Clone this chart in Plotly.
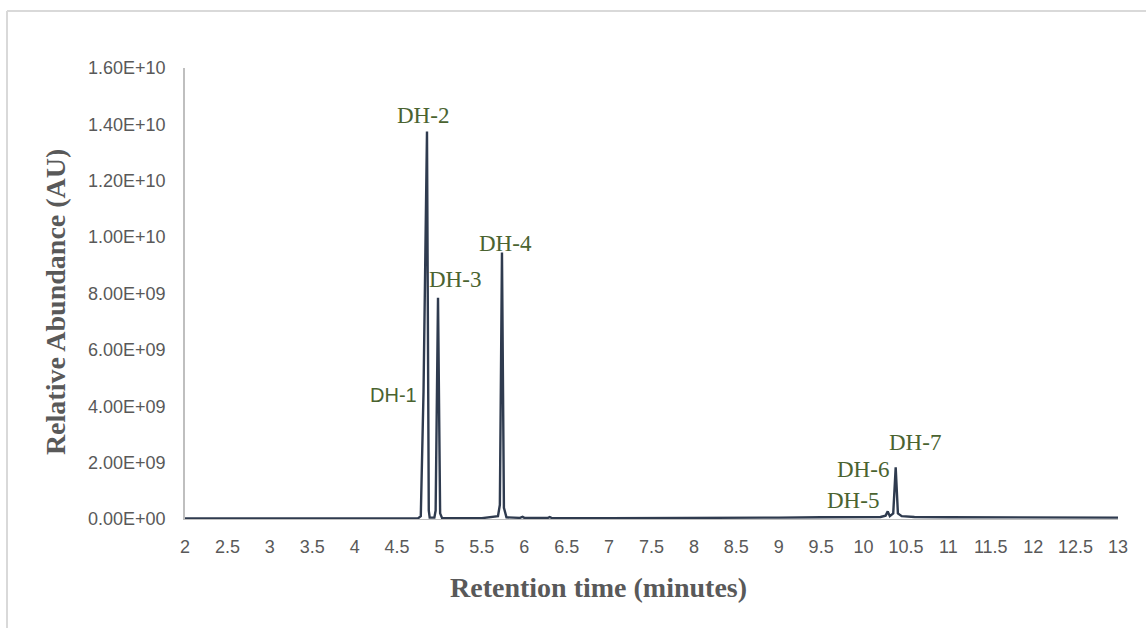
import plotly.graph_objects as go

# ---- data ----
retention_time = [2.0, 3.0, 4.0, 4.5, 4.75, 4.780, 4.798, 4.800, 4.806, 4.812, 4.853, 4.874, 4.885,
                  4.94, 4.955, 4.983, 5.008, 5.03, 5.5, 5.69, 5.712, 5.737, 5.76, 5.79,
                  5.95, 5.98, 6.0, 6.28, 6.3, 6.32, 7.0, 8.0, 9.0, 9.5, 10.0, 10.2, 10.26,
                  10.285, 10.31, 10.35, 10.379, 10.405, 10.45, 10.6, 11.0, 12.0, 12.6, 13.0]
abundance_e9 = [0.02, 0.02, 0.02, 0.02, 0.03, 0.10, 2.95, 3.0, 4.5, 4.5, 13.75, 0.3, 0.05,
                0.05, 0.3, 7.85, 0.2, 0.04, 0.03, 0.10, 0.5, 9.45, 0.4, 0.06,
                0.04, 0.08, 0.04, 0.04, 0.07, 0.04, 0.03, 0.03, 0.05, 0.06, 0.06, 0.07, 0.12,
                0.27, 0.10, 0.20, 1.83, 0.20, 0.10, 0.07, 0.06, 0.06, 0.06, 0.05]
abundance = [v * 1e9 for v in abundance_e9]

peak_labels = ["DH-1", "DH-2", "DH-3", "DH-4", "DH-5", "DH-6", "DH-7"]

x_ticks = [2 + 0.5 * i for i in range(23)]
x_ticktext = [("%g" % t) for t in x_ticks]
y_ticks = [i * 2e9 for i in range(9)]
y_ticktext = ["0.00E+00", "2.00E+09", "4.00E+09", "6.00E+09", "8.00E+09",
              "1.00E+10", "1.20E+10", "1.40E+10", "1.60E+10"]

# ---- label placement (layout) ----
label_pos = {
    "DH-1": (4.46, 4.40e9),
    "DH-2": (4.806, 1.433e10),
    "DH-3": (5.183, 8.51e9),
    "DH-4": (5.784, 9.79e9),
    "DH-5": (9.876, 0.64e9),
    "DH-6": (9.993, 1.77e9),
    "DH-7": (10.607, 2.73e9),
}

GREEN = "#4a6330"
GRAY_TXT = "#595959"

fig = go.Figure()
fig.add_trace(go.Scatter(
    x=retention_time, y=abundance, mode="lines",
    line=dict(color="#2f3b4f", width=2.4), showlegend=False,
))

annotations = []
for lab in peak_labels:
    x, y = label_pos[lab]
    fnt = dict(family="Liberation Serif, Times New Roman, serif", size=23, color=GREEN)
    if lab == "DH-1":
        fnt = dict(family="Liberation Sans, Arial, sans-serif", size=20, color=GREEN)
    annotations.append(dict(x=x, y=y, xref="x", yref="y", text=lab, showarrow=False,
                            font=fnt, xanchor="center", yanchor="middle"))

annotations.append(dict(
    x=0.4437, y=-0.1508, xref="paper", yref="paper", showarrow=False,
    text="<b>Retention time (minutes)</b>", xanchor="center", yanchor="middle",
    font=dict(family="Liberation Serif, Times New Roman, serif", size=28, color=GRAY_TXT)))
annotations.append(dict(
    x=-0.1393, y=0.481, xref="paper", yref="paper", showarrow=False, textangle=-90,
    text="<b>Relative Abundance (AU)</b>", xanchor="center", yanchor="middle",
    font=dict(family="Liberation Serif, Times New Roman, serif", size=28, color=GRAY_TXT)))

fig.update_layout(
    width=1146, height=628,
    margin=dict(l=185, r=28, t=68, b=109),
    paper_bgcolor="white", plot_bgcolor="white",
    annotations=annotations,
    shapes=[
        dict(type="line", xref="paper", yref="paper", x0=-0.1908, x1=1.05,
             y0=1.1264, y1=1.1264, line=dict(color="#d9d9d9", width=2)),
        dict(type="line", xref="paper", yref="paper", x0=-0.1908, x1=-0.1908,
             y0=1.1264, y1=-0.3, line=dict(color="#d9d9d9", width=2)),
    ],
    xaxis=dict(range=[2, 13], tickvals=x_ticks, ticktext=x_ticktext, showgrid=False,
               zeroline=False, showline=True, linecolor="#bfbfbf", linewidth=1,
               ticks="", ticklabelstandoff=11,
               tickfont=dict(family="Liberation Sans, Arial, sans-serif", size=18, color=GRAY_TXT)),
    yaxis=dict(range=[0, 1.6e10], tickvals=y_ticks, ticktext=y_ticktext, showgrid=False,
               zeroline=False, showline=True, linecolor="#bfbfbf", linewidth=1.5,
               ticks="", ticklabelstandoff=14,
               tickfont=dict(family="Liberation Sans, Arial, sans-serif", size=18, color=GRAY_TXT)),
)

fig.write_html("out.html")
